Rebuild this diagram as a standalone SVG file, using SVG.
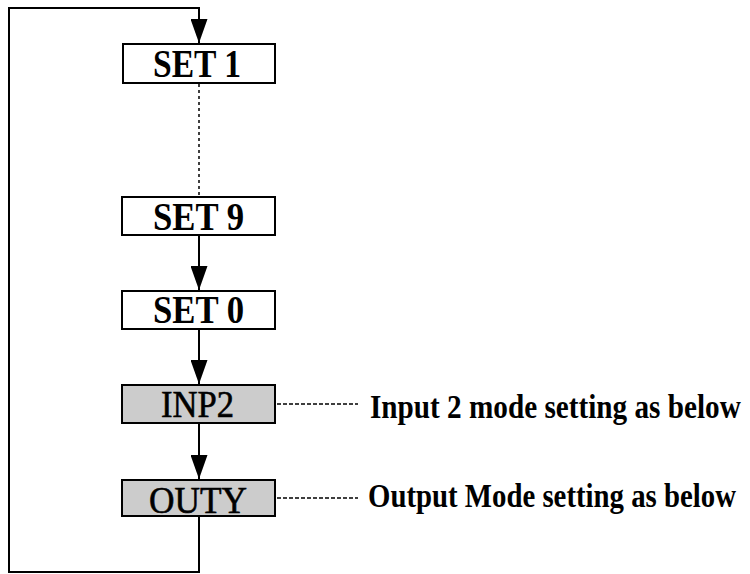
<svg xmlns="http://www.w3.org/2000/svg" width="750" height="574" viewBox="0 0 750 574">
<style>
.box{fill:#ffffff;stroke:#000;stroke-width:2}
.gbox{fill:#cccccc;stroke:#000;stroke-width:2}
.lbl{font-family:"Liberation Serif","Times New Roman",serif;font-weight:bold;font-size:41px;fill:#000}
.lbln{font-family:"Liberation Serif","Times New Roman",serif;font-size:38px;fill:#000;stroke:#000;stroke-width:0.6}
.note{font-family:"Liberation Serif","Times New Roman",serif;font-weight:bold;font-size:33px;fill:#000}
.ln{fill:none;stroke:#000;stroke-width:2}
.dash{fill:none;stroke:#000;stroke-width:1.5;stroke-dasharray:4 2}
.vdash{fill:none;stroke:#000;stroke-width:1.5;stroke-dasharray:3 3}
</style>
<defs>
<marker id="ah" markerUnits="userSpaceOnUse" markerWidth="24" markerHeight="17" refX="24" refY="8.5" orient="auto" viewBox="0 0 24 17">
<path d="M0,0 L24,8.5 L0,17 Z" fill="#000"/>
</marker>
</defs>
<rect width="750" height="574" fill="#ffffff"/>
<g id="connectors">
<path class="ln" d="M199,516 V572 H9 V8 H199 V43" marker-end="url(#ah)"/>
<path class="vdash" d="M199,84 V197"/>
<path class="ln" d="M199,235 V290" marker-end="url(#ah)"/>
<path class="ln" d="M199,329 V384" marker-end="url(#ah)"/>
<path class="ln" d="M199,423 V479" marker-end="url(#ah)"/>
<path class="dash" d="M277,404 H358"/>
<path class="dash" d="M277,498 H358"/>
</g>
<g id="set1">
<rect class="box" x="123" y="44" width="152" height="39"/>
<text class="lbl" x="153" y="77" textLength="88" lengthAdjust="spacingAndGlyphs">SET 1</text>
</g>
<g id="set9">
<rect class="box" x="122" y="197" width="153" height="38"/>
<text class="lbl" x="153" y="230" textLength="91" lengthAdjust="spacingAndGlyphs">SET 9</text>
</g>
<g id="set0">
<rect class="box" x="122" y="291" width="153" height="38"/>
<text class="lbl" x="153" y="323" textLength="91" lengthAdjust="spacingAndGlyphs">SET 0</text>
</g>
<g id="inp2">
<rect class="gbox" x="122" y="385" width="153" height="38"/>
<text class="lbln" x="161" y="417" textLength="73" lengthAdjust="spacingAndGlyphs">INP2</text>
</g>
<g id="outy">
<rect class="gbox" x="122" y="480" width="153" height="36"/>
<text class="lbln" x="149" y="513" textLength="98" lengthAdjust="spacingAndGlyphs">OUTY</text>
</g>
<g id="notes">
<text class="note" transform="translate(370,418) scale(0.885,1)" x="0" y="0" textLength="419" lengthAdjust="spacingAndGlyphs">Input 2 mode setting as below</text>
<text class="note" transform="translate(368,507) scale(0.873,1)" x="0" y="0" textLength="421.5" lengthAdjust="spacingAndGlyphs">Output Mode setting as below</text>
</g>
</svg>
